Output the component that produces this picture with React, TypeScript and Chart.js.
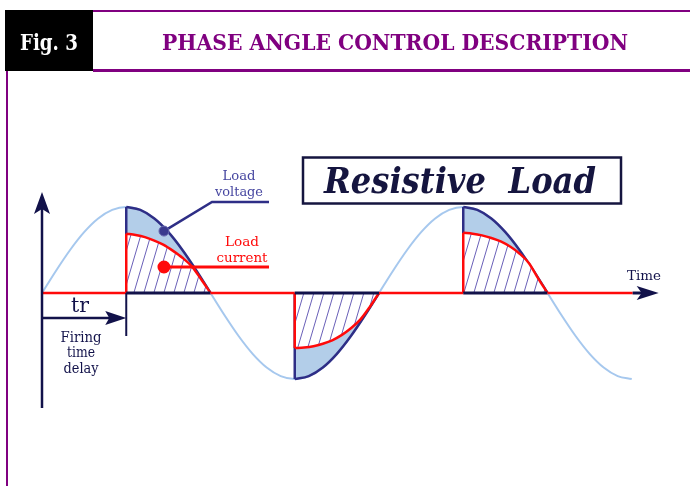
import { useEffect, useRef } from "react";
import { Chart, registerables } from "chart.js";
Chart.register(...registerables);

// ---- data (angle in degrees, amplitude normalised to the voltage peak) ----
const voltageAngles = [0, 15, 30, 45, 60, 75, 90, 105, 120, 135, 150, 165, 180, 195, 210, 225, 240, 255, 270, 285, 300, 315, 330, 345, 360, 375, 390, 405, 420, 435, 450, 465, 480, 495, 510, 525, 540, 555, 570, 585, 600, 615, 630];
const voltageValues = [0, 0.259, 0.5, 0.707, 0.866, 0.966, 1, 0.966, 0.866, 0.707, 0.5, 0.259, 0, -0.259, -0.5, -0.707, -0.866, -0.966, -1, -0.966, -0.866, -0.707, -0.5, -0.259, 0, 0.259, 0.5, 0.707, 0.866, 0.966, 1, 0.966, 0.866, 0.707, 0.5, 0.259, 0, -0.259, -0.5, -0.707, -0.866, -0.966, -1];

const firingAngles = [90, 270, 450];
const zeroAngles = [180, 360, 540];

const current1Angles = [90, 100, 110, 120, 130, 140, 150, 160, 170, 180];
const current1Values = [0.69, 0.675, 0.65, 0.61, 0.56, 0.49, 0.41, 0.31, 0.16, 0];
const current2Angles = [270, 280, 290, 300, 310, 320, 330, 340, 350, 360];
const current2Values = [-0.64, -0.635, -0.62, -0.59, -0.55, -0.49, -0.41, -0.31, -0.165, 0];
const current3Angles = [450, 460, 470, 480, 490, 500, 510, 520, 530, 540];
const current3Values = [0.7, 0.69, 0.67, 0.64, 0.6, 0.54, 0.46, 0.35, 0.17, 0];

const axisAngles = [0, 90, 180, 270, 360, 450, 540, 631];

// annotation anchors (data units)
const voltageLeader = [
  { x: 130.3, y: 0.72 },
  { x: 181.6, y: 1.058 },
  { x: 242.5, y: 1.058 },
];
const currentLeader = [
  { x: 130.3, y: 0.302 },
  { x: 242.5, y: 0.302 },
];

// ---- styling ----
const PURPLE = "#800080";
const NAVY = "#2e2e86";
const DARK = "#12124a";
const RED = "#ff0a0a";
const SINE = "#a6c8ee";
const BLUEFILL = "#b3cee9";

const PX_PER_DEG = 337 / 360;
const X_MIN = -42 / PX_PER_DEG;
const X_MAX = X_MIN + 690 / PX_PER_DEG;
const PX_PER_UNIT = 86;
const Y_MAX = 293 / PX_PER_UNIT;
const Y_MIN = Y_MAX - 486 / PX_PER_UNIT;

function inWindow(a: number) {
  for (let i = 0; i < firingAngles.length; i++) {
    if (a >= firingAngles[i] - 0.01 && a < zeroAngles[i] - 0.01) return true;
  }
  return false;
}

function fitText(
  ctx: CanvasRenderingContext2D,
  s: string,
  cx: number,
  baseline: number,
  font: string,
  color: string,
  width?: number
) {
  ctx.save();
  ctx.font = font;
  ctx.fillStyle = color;
  ctx.textAlign = "center";
  ctx.textBaseline = "alphabetic";
  const w = ctx.measureText(s).width;
  ctx.translate(cx, baseline);
  if (width && w > 0) {
    const k = Math.max(0.7, Math.min(1.35, width / w));
    ctx.scale(k, 1);
  }
  ctx.fillText(s, 0, 0);
  ctx.restore();
}

function arrow(
  ctx: CanvasRenderingContext2D,
  tx: number,
  ty: number,
  dir: "right" | "up",
  len: number,
  hw: number,
  notch: number
) {
  ctx.beginPath();
  if (dir === "right") {
    ctx.moveTo(tx, ty);
    ctx.lineTo(tx - len, ty - hw);
    ctx.lineTo(tx - len + notch, ty);
    ctx.lineTo(tx - len, ty + hw);
  } else {
    ctx.moveTo(tx, ty);
    ctx.lineTo(tx - hw, ty + len);
    ctx.lineTo(tx, ty + len - notch);
    ctx.lineTo(tx + hw, ty + len);
  }
  ctx.closePath();
  ctx.fillStyle = DARK;
  ctx.fill();
}

const decor = {
  id: "decor",
  beforeDraw(chart: any) {
    const ctx: CanvasRenderingContext2D = chart.ctx;
    ctx.save();
    ctx.fillStyle = "#ffffff";
    ctx.fillRect(0, 0, chart.width, chart.height);
    // header
    ctx.fillStyle = "#000000";
    ctx.fillRect(5, 10, 88, 61);
    ctx.fillStyle = PURPLE;
    ctx.fillRect(93, 10, 597, 2);
    ctx.fillRect(93, 69, 597, 3);
    ctx.fillRect(6, 71, 2, 415);
    ctx.restore();
    fitText(ctx, "Fig. 3", 49, 50, "bold 22px 'DejaVu Serif'", "#ffffff", 58);
    fitText(ctx, "PHASE ANGLE CONTROL DESCRIPTION", 395, 50, "bold 22px 'DejaVu Serif'", PURPLE, 466);
  },
  afterDraw(chart: any) {
    const ctx: CanvasRenderingContext2D = chart.ctx;
    const xs = chart.scales.x;
    const ys = chart.scales.y;
    const x0 = xs.getPixelForValue(0);
    const y0 = ys.getPixelForValue(0);
    const xf = xs.getPixelForValue(firingAngles[0]);
    const xEnd = xs.getPixelForValue(axisAngles[axisAngles.length - 1]);

    ctx.save();
    ctx.strokeStyle = DARK;
    ctx.lineCap = "butt";
    // y axis
    ctx.lineWidth = 2.5;
    ctx.beginPath();
    ctx.moveTo(x0, 408);
    ctx.lineTo(x0, 205);
    ctx.stroke();
    arrow(ctx, x0, 192, "up", 22, 8, 5);
    // time axis end
    ctx.lineWidth = 3;
    ctx.beginPath();
    ctx.moveTo(xEnd, y0);
    ctx.lineTo(xEnd + 12, y0);
    ctx.stroke();
    arrow(ctx, xEnd + 26, y0, "right", 22, 7, 5);
    // firing delay
    ctx.lineWidth = 2;
    ctx.beginPath();
    ctx.moveTo(xf, y0);
    ctx.lineTo(xf, 336);
    ctx.stroke();
    ctx.lineWidth = 2.5;
    ctx.beginPath();
    ctx.moveTo(x0, 318);
    ctx.lineTo(xf - 14, 318);
    ctx.stroke();
    arrow(ctx, xf, 318, "right", 21, 7, 4);
    // Resistive load box
    ctx.lineWidth = 2.5;
    ctx.strokeStyle = "#15153f";
    ctx.strokeRect(303, 157.5, 318, 46);
    ctx.restore();

    fitText(ctx, "Resistive  Load", 460, 193, "bold italic 35px 'DejaVu Serif'", "#15153f", 272);
    fitText(ctx, "tr", 80, 312, "20px 'DejaVu Serif'", DARK, 18);
    fitText(ctx, "Firing", 81, 342, "14px 'DejaVu Serif'", DARK, 41);
    fitText(ctx, "time", 81, 357, "14px 'DejaVu Serif'", DARK, 28);
    fitText(ctx, "delay", 81, 373, "14px 'DejaVu Serif'", DARK, 35);
    fitText(ctx, "Load", 239, 180, "13px 'DejaVu Serif'", "#4646a0", 33);
    fitText(ctx, "voltage", 239, 196, "13px 'DejaVu Serif'", "#4646a0", 48);
    fitText(ctx, "Load", 242, 246, "13px 'DejaVu Serif'", RED, 34);
    fitText(ctx, "current", 242, 262, "13px 'DejaVu Serif'", RED, 51);
    fitText(ctx, "Time", 644, 280, "12px 'DejaVu Serif'", DARK, 34);
  },
};

function makeHatch(): CanvasPattern | string {
  const c = document.createElement("canvas");
  c.width = 10;
  c.height = 34;
  const g = c.getContext("2d");
  if (!g) return "#ffffff";
  g.fillStyle = "#ffffff";
  g.fillRect(0, 0, 10, 34);
  g.strokeStyle = "#6a60b8";
  g.lineWidth = 1;
  for (const off of [-10, 0, 10]) {
    g.beginPath();
    g.moveTo(off, 34);
    g.lineTo(off + 10, 0);
    g.stroke();
  }
  const p = g.createPattern(c, "repeat");
  return p || "#ffffff";
}

export default function App() {
  const ref = useRef<HTMLCanvasElement | null>(null);

  useEffect(() => {
    if (!ref.current) return;
    const hatch = makeHatch();
    const voltagePts = voltageAngles.map((a, i) => ({ x: a, y: voltageValues[i] }));

    const datasets: any[] = [];
    datasets.push({
      label: "Voltage",
      data: voltagePts,
      borderColor: SINE,
      borderWidth: 2,
      pointRadius: 0,
      fill: false,
      cubicInterpolationMode: "monotone",
      order: 100,
    });
    firingAngles.forEach((fa, k) => {
      const za = zeroAngles[k];
      const pts = voltagePts.filter((p) => p.x >= fa && p.x <= za);
      datasets.push({
        label: "Load voltage " + k,
        data: pts,
        borderColor: NAVY,
        borderWidth: 2.5,
        backgroundColor: BLUEFILL,
        pointRadius: 0,
        fill: "origin",
        cubicInterpolationMode: "monotone",
        order: 90,
      });
      datasets.push({
        label: "Firing " + k,
        data: [
          { x: fa, y: 0 },
          { x: fa, y: pts[0].y },
        ],
        borderColor: NAVY,
        borderWidth: 2.5,
        pointRadius: 0,
        fill: false,
        order: 89,
      });
    });
    const currents = [
      [current1Angles, current1Values],
      [current2Angles, current2Values],
      [current3Angles, current3Values],
    ];
    currents.forEach(([angs, vals], k) => {
      const pts = angs.map((a, i) => ({ x: a, y: vals[i] }));
      datasets.push({
        label: "Load current " + k,
        data: pts,
        borderColor: RED,
        borderWidth: 2.5,
        backgroundColor: hatch,
        pointRadius: 0,
        fill: "origin",
        cubicInterpolationMode: "monotone",
        order: 80,
      });
      datasets.push({
        label: "Current step " + k,
        data: [
          { x: angs[0], y: 0 },
          { x: angs[0], y: vals[0] },
        ],
        borderColor: RED,
        borderWidth: 2.5,
        pointRadius: 0,
        fill: false,
        order: 79,
      });
    });
    datasets.push({
      label: "Axis",
      data: axisAngles.map((a) => ({ x: a, y: 0 })),
      borderColor: RED,
      borderWidth: 2.5,
      pointRadius: 0,
      fill: false,
      segment: {
        borderColor: (c: any) => (inWindow(c.p0.parsed.x) ? DARK : RED),
        borderWidth: (c: any) => (inWindow(c.p0.parsed.x) ? 3 : 2.5),
      },
      order: 70,
    });
    datasets.push({
      label: "Voltage leader",
      data: voltageLeader,
      borderColor: NAVY,
      borderWidth: 2.5,
      pointRadius: [5, 0, 0],
      pointBackgroundColor: "#3a3a8e",
      pointBorderColor: "#6a6ab0",
      pointBorderWidth: 1,
      fill: false,
      tension: 0,
      order: 60,
    });
    datasets.push({
      label: "Current leader",
      data: currentLeader,
      borderColor: RED,
      borderWidth: 3,
      pointRadius: [5, 0],
      pointBackgroundColor: RED,
      pointBorderColor: RED,
      fill: false,
      tension: 0,
      order: 60,
    });

    const chart = new Chart(ref.current, {
      type: "line",
      data: { datasets },
      options: {
        animation: false,
        responsive: false,
        events: [],
        layout: { padding: 0, autoPadding: false },
        plugins: {
          legend: { display: false },
          tooltip: { enabled: false },
          title: { display: false },
        },
        scales: {
          x: { type: "linear", min: X_MIN, max: X_MAX, display: false },
          y: { type: "linear", min: Y_MIN, max: Y_MAX, display: false },
        },
      },
      plugins: [decor],
    } as any);
    return () => chart.destroy();
  }, []);

  return (
    <div style={{ position: "absolute", left: 0, top: 0, width: 690, height: 486 }}>
      <canvas ref={ref} width={690} height={486} />
    </div>
  );
}
